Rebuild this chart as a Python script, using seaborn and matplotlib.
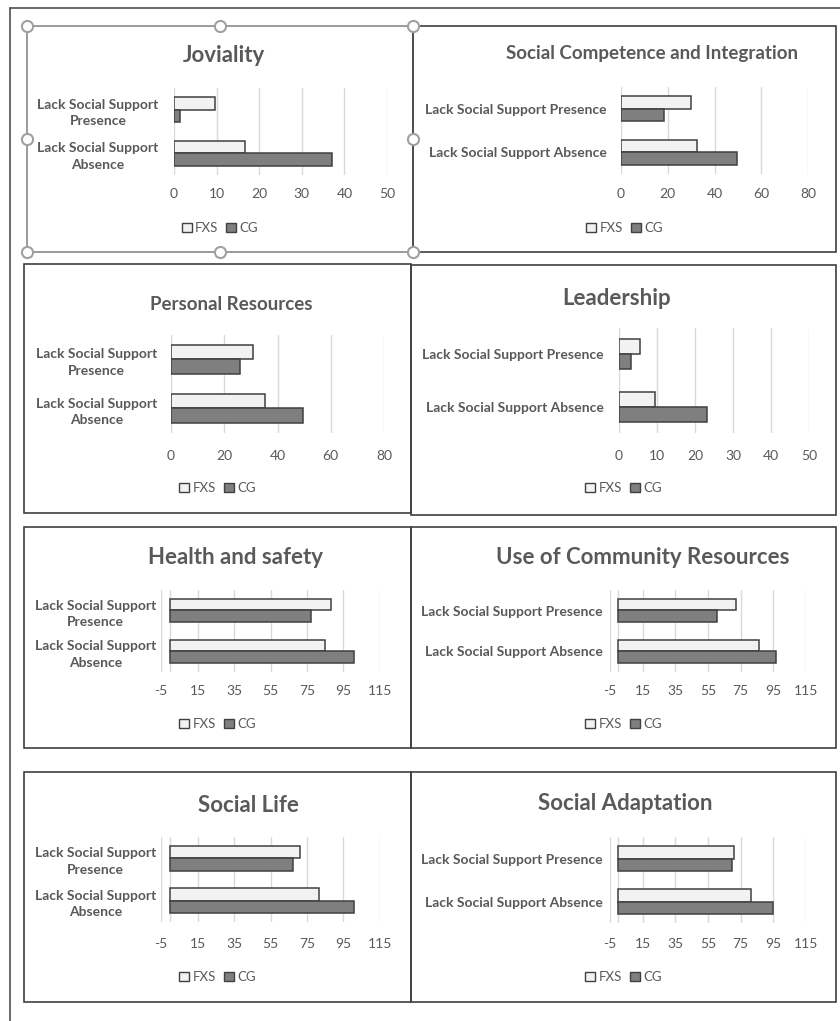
import numpy as np
import pandas as pd
import matplotlib
matplotlib.use("Agg")
import matplotlib.pyplot as plt
import seaborn as sns
from matplotlib.patches import Rectangle, Patch
from matplotlib.lines import Line2D

# values
domains = ['Joviality', 'Social Competence and Integration', 'Personal Resources', 'Leadership',
           'Health and safety', 'Use of Community Resources', 'Social Life', 'Social Adaptation']
groups = ['FXS', 'CG']
conditions = ['Lack Social Support Presence', 'Lack Social Support Absence']

fxs_presence = [9.6, 29.9, 30.7, 5.6, 87.9, 71.9, 71.1, 71.1]
fxs_absence = [16.7, 32.6, 35.4, 9.4, 85.0, 86.0, 81.7, 81.3]
cg_presence = [1.5, 18.5, 25.8, 3.2, 77.3, 60.3, 67.6, 69.7]
cg_absence = [37.1, 49.5, 49.4, 23.1, 100.5, 96.4, 100.5, 94.8]

x_ticks = [[0, 10, 20, 30, 40, 50], [0, 20, 40, 60, 80], [0, 20, 40, 60, 80], [0, 10, 20, 30, 40, 50],
           [-5, 15, 35, 55, 75, 95, 115], [-5, 15, 35, 55, 75, 95, 115],
           [-5, 15, 35, 55, 75, 95, 115], [-5, 15, 35, 55, 75, 95, 115]]

W, H = 840, 1021
TXT = '#595959'
GRID = '#d9d9d9'
EDGE = '#404040'
colors = {'FXS': '#f2f2f2', 'CG': '#7f7f7f'}

sns.set_style('white')
plt.rcParams['font.family'] = ['Lato', 'DejaVu Sans']

# layout in pixels: panel box, plot area, title pos, title size, wrap labels, tick pads
panels = [
    dict(box=(27, 413, 26, 252), ax=(174, 387, 88, 175), title=(224, 55), tsize=16, wrap=True, lab=193, leg=228, ypad=11),
    dict(box=(413, 836, 26, 252), ax=(621, 808, 87, 174), title=(652, 53), tsize=13.5, wrap=False, lab=193, leg=228, ypad=10),
    dict(box=(24, 411, 264, 513), ax=(171, 384, 335, 433), title=(231, 305), tsize=13.5, wrap=True, lab=455, leg=488, ypad=10),
    dict(box=(411, 836, 265, 515), ax=(619, 809, 328, 433), title=(617, 298), tsize=16, wrap=False, lab=455, leg=488, ypad=11),
    dict(box=(24, 411, 527, 748), ax=(161, 380, 590, 672), title=(235, 558), tsize=16, wrap=True, lab=690, leg=724, ypad=3.5),
    dict(box=(411, 836, 527, 748), ax=(610, 806, 590, 672), title=(643, 557), tsize=16, wrap=False, lab=690, leg=724, ypad=5),
    dict(box=(24, 411, 772, 1002), ax=(161, 380, 837, 922), title=(248, 805), tsize=16, wrap=True, lab=943, leg=977, ypad=3.5),
    dict(box=(411, 836, 772, 1002), ax=(610, 806, 837, 923), title=(625, 803), tsize=16, wrap=False, lab=943, leg=977, ypad=5),
]

fig = plt.figure(figsize=(W / 100, H / 100), dpi=100)


def fx(px):
    return px / W


def fy(py):
    return 1 - py / H


# outer page frame (top and left edges)
fig.add_artist(Line2D([fx(10), 1], [fy(8), fy(8)], color='#505050', lw=1.2))
fig.add_artist(Line2D([fx(10), fx(10)], [fy(8), 0], color='#505050', lw=1.2))

for i, p in enumerate(panels):
    df = pd.DataFrame({
        'condition': conditions * 2,
        'group': ['FXS', 'FXS', 'CG', 'CG'],
        'value': [fxs_presence[i], fxs_absence[i], cg_presence[i], cg_absence[i]],
    })

    x0, x1, y0, y1 = p['box']
    frame_col = '#8a8a8a' if i == 0 else '#404040'
    fig.add_artist(Rectangle((fx(x0), fy(y1)), fx(x1) - fx(x0), fy(y0) - fy(y1),
                             transform=fig.transFigure, fill=False, edgecolor=frame_col, lw=1.2))

    a0, a1, b0, b1 = p['ax']
    ax = fig.add_axes([fx(a0), fy(b1), fx(a1) - fx(a0), fy(b0) - fy(b1)])
    sns.barplot(data=df, y='condition', x='value', hue='group', order=conditions, hue_order=groups,
                palette=colors, edgecolor=EDGE, linewidth=1.1, width=0.58, legend=False, ax=ax, zorder=3)

    ticks = x_ticks[i]
    ax.set_xlim(ticks[0], ticks[-1])
    ax.set_xticks(ticks)
    ax.set_xticklabels([str(t) for t in ticks])
    ax.set_ylim(1.5, -0.5)
    for t in ticks:
        ax.axvline(t, color=GRID, lw=1, zorder=0)
    if ticks[0] < 0:
        ax.axvline(0, color=GRID, lw=1, zorder=0)
    for s in ax.spines.values():
        s.set_visible(False)
    ax.set_xlabel('')
    ax.set_ylabel('')

    if p['wrap']:
        ylabels = [c.replace('Support ', 'Support\n') for c in conditions]
    else:
        ylabels = conditions
    ax.set_yticks([0, 1])
    ax.set_yticklabels(ylabels, fontsize=10, fontweight='bold', color=TXT, multialignment='center',
                       linespacing=1.45)
    xpad = (p['lab'] - b1 - 5) * 0.72
    ax.tick_params(axis='x', length=0, pad=xpad, labelsize=10, labelcolor=TXT)
    ax.tick_params(axis='y', length=0, pad=p['ypad'])

    fig.text(fx(p['title'][0]), fy(p['title'][1]), domains[i], ha='center', va='center',
             fontsize=p['tsize'], fontweight='bold', color=TXT)

    handles = [Patch(facecolor=colors[g], edgecolor=EDGE, lw=1) for g in groups]
    cx = (x0 + x1) / 2
    ax.legend(handles, groups, loc='center', bbox_to_anchor=(fx(cx), fy(p['leg'])),
              bbox_transform=fig.transFigure, ncol=2, frameon=False, fontsize=9.5,
              handlelength=0.75, handleheight=0.75, handletextpad=0.25, columnspacing=0.6,
              labelcolor=TXT)

# selection handles around the first chart
hx = [27, 220, 413]
hy = [26, 139, 252]
for px in hx:
    for py in hy:
        if px == 220 and py == 139:
            continue
        fig.add_artist(Line2D([fx(px)], [fy(py)], marker='o', markersize=8, markerfacecolor='white',
                              markeredgecolor='#a0a0a0', markeredgewidth=1.5))

fig.savefig('out.png', dpi=100)
